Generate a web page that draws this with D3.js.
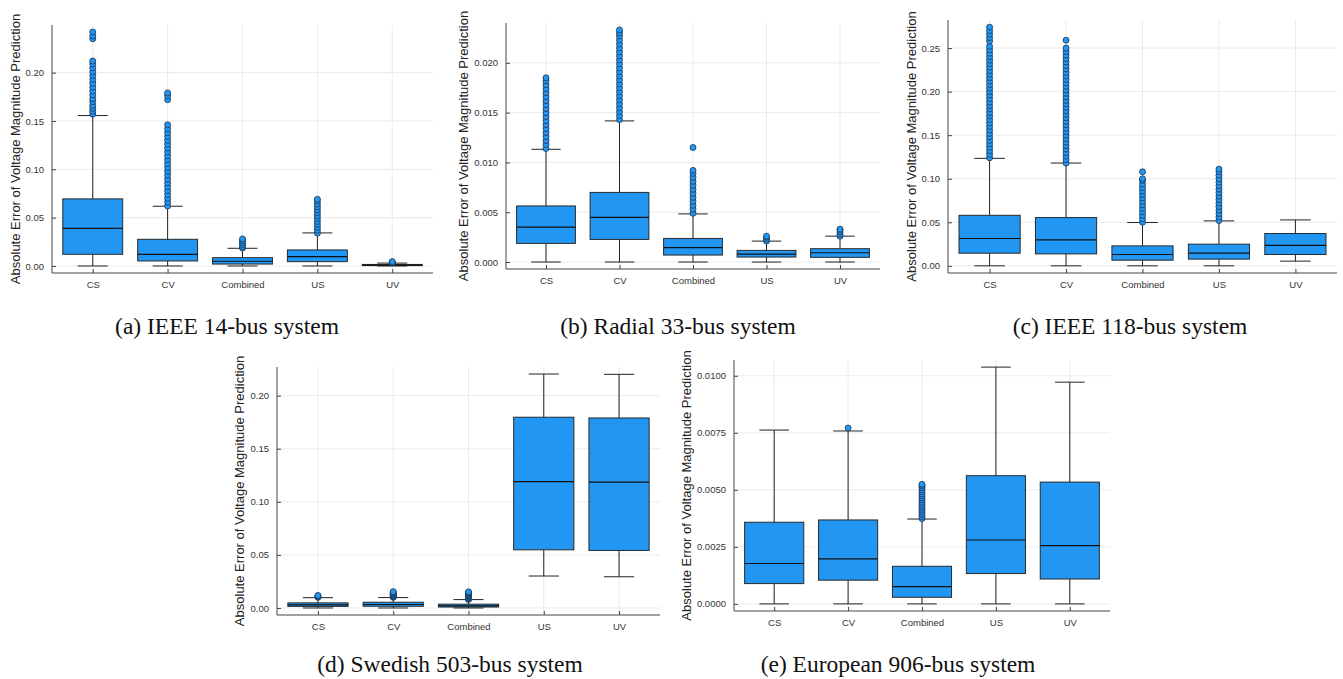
<!DOCTYPE html>
<html>
<head>
<meta charset="utf-8">
<script src="https://cdn.jsdelivr.net/npm/d3@7"></script>
<style>
  html, body { margin: 0; padding: 0; background: #ffffff; }
  svg { display: block; }
</style>
</head>
<body>
<svg id="chart" width="1343" height="679"></svg>
<script>
// ---------------- DATA ----------------
const categories = ["CS", "CV", "Combined", "US", "UV"];
const yAxisTitle = "Absolute Error of Voltage Magnitude Prediction";

// five-number summaries per category: [lower whisker, Q1, median, Q3, upper whisker]
const ieee14Box = [
  [0, 0.0121, 0.0390, 0.0694, 0.1556],
  [0, 0.0052, 0.0121, 0.0276, 0.0618],
  [0, 0.0020, 0.0049, 0.0086, 0.0183],
  [0, 0.0045, 0.0097, 0.0166, 0.0342],
  [0, 0.0004, 0.0008, 0.0016, 0.0030]
];
const ieee14Outliers = [
  [0.157, 0.160, 0.163, 0.166, 0.170, 0.173, 0.177, 0.181, 0.185, 0.189, 0.193, 0.197, 0.201, 0.205, 0.209, 0.212, 0.235, 0.238, 0.242],
  [0.062, 0.066, 0.070, 0.074, 0.078, 0.082, 0.086, 0.090, 0.094, 0.098, 0.102, 0.106, 0.110, 0.114, 0.118, 0.122, 0.126, 0.130, 0.134, 0.138, 0.142, 0.146, 0.172, 0.176, 0.179],
  [0.0185, 0.020, 0.022, 0.024, 0.026, 0.028],
  [0.034, 0.037, 0.040, 0.043, 0.046, 0.049, 0.052, 0.055, 0.058, 0.061, 0.064, 0.067, 0.069],
  [0.0031, 0.0036, 0.0041, 0.0045]
];
const ieee14Ticks = [0, 0.05, 0.10, 0.15, 0.20];

const radial33Box = [
  [0, 0.00187, 0.00350, 0.00563, 0.01132],
  [0, 0.00227, 0.00449, 0.00699, 0.01417],
  [0, 0.00070, 0.00144, 0.00237, 0.00483],
  [0, 0.00050, 0.00080, 0.00117, 0.00210],
  [0, 0.00047, 0.00093, 0.00134, 0.00260]
];
const radial33Outliers = [
  [0.0114, 0.0118, 0.0122, 0.0126, 0.0130, 0.0134, 0.0138, 0.0142, 0.0146, 0.0150, 0.0154, 0.0158, 0.0162, 0.0166, 0.0170, 0.0174, 0.0178, 0.0182, 0.0185],
  [0.0143, 0.0147, 0.0151, 0.0155, 0.0159, 0.0163, 0.0167, 0.0171, 0.0175, 0.0179, 0.0183, 0.0187, 0.0191, 0.0195, 0.0199, 0.0203, 0.0207, 0.0211, 0.0215, 0.0219, 0.0223, 0.0227, 0.0230, 0.0233],
  [0.0049, 0.0053, 0.0057, 0.0061, 0.0065, 0.0069, 0.0073, 0.0077, 0.0081, 0.0085, 0.0089, 0.0092, 0.0115],
  [0.0021, 0.0023, 0.0025, 0.0026],
  [0.0026, 0.0028, 0.0030, 0.0032, 0.0033]
];
const radial33Ticks = [0, 0.005, 0.010, 0.015, 0.020];

const ieee118Box = [
  [0, 0.0145, 0.0314, 0.0580, 0.1234],
  [0, 0.0137, 0.0298, 0.0554, 0.1180],
  [0, 0.0065, 0.0130, 0.0229, 0.0497],
  [0, 0.0077, 0.0145, 0.0249, 0.0516],
  [0.0054, 0.0130, 0.0234, 0.0371, 0.0527]
];
const ieee118Outliers = [
  [0.124, 0.128, 0.132, 0.136, 0.140, 0.144, 0.148, 0.152, 0.156, 0.160, 0.164, 0.168, 0.172, 0.176, 0.180, 0.184, 0.188, 0.192, 0.196, 0.200, 0.204, 0.208, 0.212, 0.216, 0.220, 0.224, 0.228, 0.232, 0.236, 0.240, 0.244, 0.248, 0.252, 0.258, 0.262, 0.266, 0.270, 0.274],
  [0.118, 0.122, 0.126, 0.130, 0.134, 0.138, 0.142, 0.146, 0.150, 0.154, 0.158, 0.162, 0.166, 0.170, 0.174, 0.178, 0.182, 0.186, 0.190, 0.194, 0.198, 0.202, 0.206, 0.210, 0.214, 0.218, 0.222, 0.226, 0.230, 0.234, 0.238, 0.242, 0.246, 0.250, 0.259],
  [0.050, 0.054, 0.058, 0.062, 0.066, 0.070, 0.074, 0.078, 0.082, 0.086, 0.090, 0.094, 0.098, 0.100, 0.108],
  [0.052, 0.056, 0.060, 0.064, 0.068, 0.072, 0.076, 0.080, 0.084, 0.088, 0.092, 0.096, 0.100, 0.104, 0.108, 0.111],
  []
];
const ieee118Ticks = [0, 0.05, 0.10, 0.15, 0.20, 0.25];

const swedish503Box = [
  [0, 0.0015, 0.0030, 0.0048, 0.0097],
  [0, 0.0016, 0.0033, 0.0054, 0.0098],
  [0, 0.0009, 0.0020, 0.0036, 0.0079],
  [0.0301, 0.0548, 0.1191, 0.1797, 0.2204],
  [0.0294, 0.0542, 0.1185, 0.1790, 0.2201]
];
const swedish503Outliers = [
  [0.0100, 0.0106, 0.0112, 0.0118],
  [0.0100, 0.0106, 0.0112, 0.0118, 0.0124, 0.0130, 0.0136, 0.0142, 0.0148, 0.0154],
  [0.0080, 0.0086, 0.0092, 0.0098, 0.0104, 0.0110, 0.0116, 0.0122, 0.0128, 0.0134, 0.0140, 0.0146, 0.0152],
  [],
  []
];
const swedish503Ticks = [0, 0.05, 0.10, 0.15, 0.20];

const european906Box = [
  [0, 0.00089, 0.00177, 0.00358, 0.00762],
  [0, 0.00104, 0.00197, 0.00368, 0.00758],
  [0, 0.00029, 0.00076, 0.00165, 0.00372],
  [0, 0.00133, 0.00280, 0.00562, 0.01038],
  [0, 0.00109, 0.00255, 0.00534, 0.00972]
];
const european906Outliers = [
  [],
  [0.00771],
  [0.00374, 0.00383, 0.00392, 0.00401, 0.00410, 0.00419, 0.00428, 0.00437, 0.00446, 0.00455, 0.00464, 0.00473, 0.00482, 0.00491, 0.00500, 0.00510, 0.00518, 0.00524],
  [],
  []
];
const european906Ticks = [0, 0.0025, 0.0050, 0.0075, 0.0100];

const captions = [
  "(a) IEEE 14-bus system",
  "(b) Radial 33-bus system",
  "(c) IEEE 118-bus system",
  "(d) Swedish 503-bus system",
  "(e) European 906-bus system"
];

// ---------------- LAYOUT (pixel frames) ----------------
const panels = [
  { box: ieee14Box, out: ieee14Outliers, ticks: ieee14Ticks, fmt: ".2f", caption: captions[0],
    left: 52, right: 433, top: 25, bottom: 273, titleX: 15, capX: 227, capY: 334 },
  { box: radial33Box, out: radial33Outliers, ticks: radial33Ticks, fmt: ".3f", caption: captions[1],
    left: 506, right: 880, top: 23, bottom: 269, titleX: 463, capX: 678, capY: 334 },
  { box: ieee118Box, out: ieee118Outliers, ticks: ieee118Ticks, fmt: ".2f", caption: captions[2],
    left: 948, right: 1337, top: 20, bottom: 273, titleX: 911, capX: 1130, capY: 334 },
  { box: swedish503Box, out: swedish503Outliers, ticks: swedish503Ticks, fmt: ".2f", caption: captions[3],
    left: 277, right: 660, top: 367, bottom: 615, titleX: 239, capX: 450, capY: 672 },
  { box: european906Box, out: european906Outliers, ticks: european906Ticks, fmt: ".4f", caption: captions[4],
    left: 734, right: 1110, top: 360, bottom: 611, titleX: 686, capX: 898, capY: 672 }
];

const BLUE = "#2196f3";
const sans = "'Liberation Sans', Arial, Helvetica, sans-serif";
const serif = "'Liberation Serif', 'Times New Roman', Times, serif";

const svg = d3.select("#chart");

panels.forEach(p => {
  const g = svg.append("g");

  // y domain from data, widened by 3% each side
  const allVals = [];
  p.box.forEach(b => allVals.push(...b));
  p.out.forEach(o => allVals.push(...o));
  const [mn, mx] = d3.extent(allVals);
  const pad = (mx - mn) * 0.03;
  const y = d3.scaleLinear().domain([mn - pad, mx + pad]).range([p.bottom, p.top]);

  // x: categories at 0.5 .. 4.5, box width 0.8, widened 3%
  const n = categories.length;
  const xSpan = (n - 0.1) - 0.1;
  const x = d3.scaleLinear().domain([0.1 - xSpan * 0.03, n - 0.1 + xSpan * 0.03]).range([p.left, p.right]);
  const cx = i => x(i + 0.5);
  const halfW = x(0.4) - x(0);
  const capW = x(0.2) - x(0);

  // grid
  g.selectAll(".gy").data(p.ticks).enter().append("line")
    .attr("x1", p.left).attr("x2", p.right)
    .attr("y1", d => y(d)).attr("y2", d => y(d))
    .attr("stroke", "#ebebeb").attr("stroke-width", 1);
  g.selectAll(".gx").data(categories).enter().append("line")
    .attr("x1", (d, i) => cx(i)).attr("x2", (d, i) => cx(i))
    .attr("y1", p.top).attr("y2", p.bottom)
    .attr("stroke", "#ebebeb").attr("stroke-width", 1);

  // y axis
  const yAxis = d3.axisLeft(y).tickValues(p.ticks).tickFormat(d3.format(p.fmt)).tickSize(-4).tickPadding(8);
  const ya = g.append("g").attr("transform", `translate(${p.left},0)`).call(yAxis);
  ya.select(".domain").remove();
  ya.selectAll(".tick line").attr("stroke", "#444");
  ya.selectAll(".tick text").attr("font-family", sans).attr("font-size", 9.5).attr("fill", "#333");

  // x axis
  const xAxis = d3.axisBottom(x).tickValues(categories.map((c, i) => i + 0.5))
    .tickFormat((d, i) => categories[i]).tickSize(-4).tickPadding(8);
  const xa = g.append("g").attr("transform", `translate(0,${p.bottom})`).call(xAxis);
  xa.select(".domain").remove();
  xa.selectAll(".tick line").attr("stroke", "#444");
  xa.selectAll(".tick text").attr("font-family", sans).attr("font-size", 9.5).attr("fill", "#333");

  // axis lines
  g.append("line").attr("x1", p.left).attr("x2", p.left).attr("y1", p.top).attr("y2", p.bottom)
    .attr("stroke", "#444").attr("stroke-width", 1);
  g.append("line").attr("x1", p.left).attr("x2", p.right).attr("y1", p.bottom).attr("y2", p.bottom)
    .attr("stroke", "#444").attr("stroke-width", 1);

  // boxes
  p.box.forEach((b, i) => {
    const [lo, q1, med, q3, hi] = b;
    const c = cx(i);
    const bg = g.append("g");
    // whiskers
    bg.append("line").attr("x1", c).attr("x2", c).attr("y1", y(lo)).attr("y2", y(q1))
      .attr("stroke", "#222").attr("stroke-width", 1);
    bg.append("line").attr("x1", c).attr("x2", c).attr("y1", y(q3)).attr("y2", y(hi))
      .attr("stroke", "#222").attr("stroke-width", 1);
    bg.append("line").attr("x1", c - capW).attr("x2", c + capW).attr("y1", y(lo)).attr("y2", y(lo))
      .attr("stroke", "#222").attr("stroke-width", 1);
    bg.append("line").attr("x1", c - capW).attr("x2", c + capW).attr("y1", y(hi)).attr("y2", y(hi))
      .attr("stroke", "#222").attr("stroke-width", 1);
    // box
    bg.append("rect").attr("x", c - halfW).attr("width", 2 * halfW)
      .attr("y", y(q3)).attr("height", Math.max(1, y(q1) - y(q3)))
      .attr("fill", BLUE).attr("stroke", "#2a2a2a").attr("stroke-width", 1);
    // median
    bg.append("line").attr("x1", c - halfW).attr("x2", c + halfW).attr("y1", y(med)).attr("y2", y(med))
      .attr("stroke", "#111").attr("stroke-width", 1.2);
    // outliers
    bg.selectAll("circle").data(p.out[i]).enter().append("circle")
      .attr("cx", c).attr("cy", d => y(d)).attr("r", 3)
      .attr("fill", BLUE).attr("stroke", "#1a3550").attr("stroke-width", 0.8);
  });

  // y title
  g.append("text")
    .attr("transform", `translate(${p.titleX},${(p.top + p.bottom) / 2}) rotate(-90)`)
    .attr("text-anchor", "middle").attr("dominant-baseline", "central")
    .attr("font-family", sans).attr("font-size", 13).attr("fill", "#222")
    .text(yAxisTitle);

  // caption
  svg.append("text").attr("x", p.capX).attr("y", p.capY)
    .attr("text-anchor", "middle").attr("font-family", serif).attr("font-size", 23.5).attr("fill", "#111")
    .text(p.caption);
});
</script>
</body>
</html>
